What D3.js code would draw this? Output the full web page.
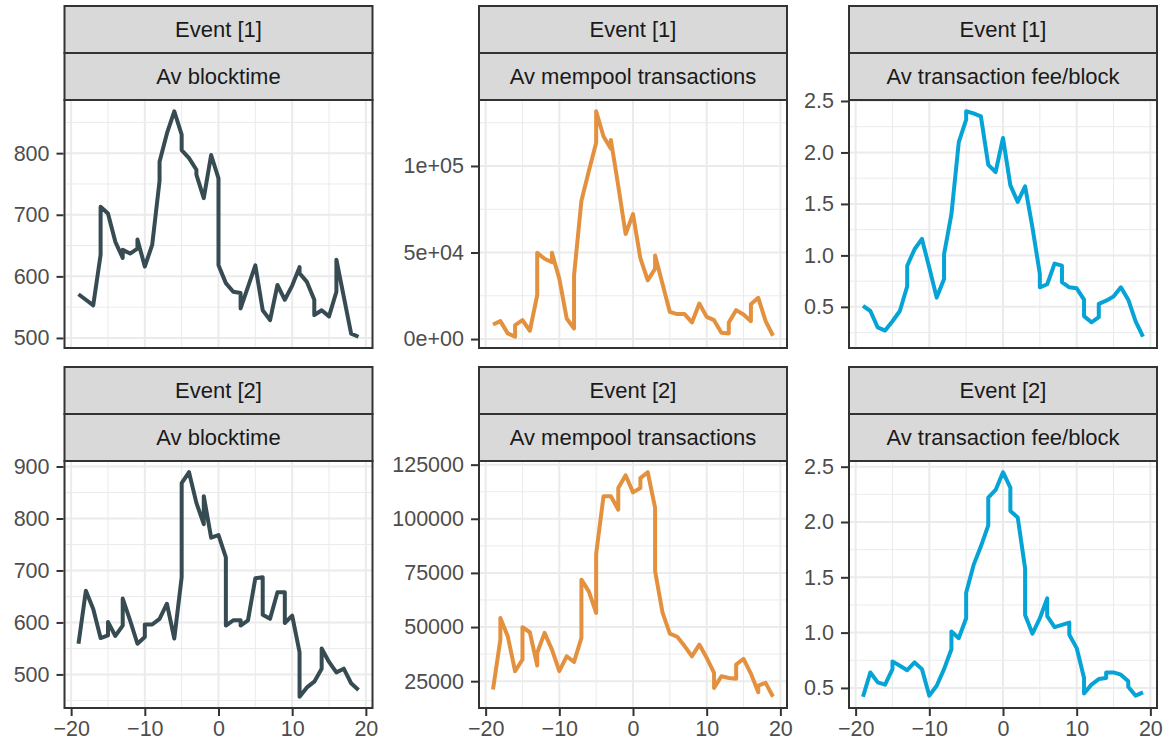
<!DOCTYPE html>
<html>
<head>
<meta charset="utf-8">
<script src="https://cdn.jsdelivr.net/npm/d3@7"></script>
<style>
  body { margin: 0; background: #fff; }
  svg text { font-family: "Liberation Sans", Arial, Helvetica, sans-serif; }
</style>
</head>
<body>
<div id="chart"></div>
<script>
// facet labels
const eventLabels = ["Event [1]", "Event [2]"];
const metricLabels = ["Av blocktime", "Av mempool transactions", "Av transaction fee/block"];

// x axis (days around event)
const xTicks = [-20, -10, 0, 10, 20];
const xMinorTicks = [-15, -5, 5, 15];

// series as [day, value]; repeated days are kept as they are in the data
const e1Blocktime = [[-19,571],[-18,562],[-17,553],[-16,635],[-16,713],[-15,702],[-14,656],[-13,630],[-13,643],[-12,637],[-11,645],[-11,660],[-10,616],[-9,651],[-8,755],[-8,786],[-7,832],[-6,868],[-5,830],[-5,805],[-4,792],[-3,773],[-3,765],[-2,727],[-1,797],[0,759],[0,618],[1,589],[2,575],[3,573],[3,548],[4,583],[5,618],[6,545],[7,529],[8,586],[9,562],[10,585],[11,615],[11,605],[12,591],[13,562],[13,537],[14,545],[15,535],[16,575],[16,627],[17,567],[18,507],[19,502]];
const e1Mempool = [[-19,8430],[-18,10350],[-17,3260],[-16,1340],[-16,8050],[-15,10900],[-14,4800],[-13,25300],[-13,49800],[-12,46400],[-11,44400],[-11,49800],[-10,34900],[-9,11900],[-8,6100],[-8,36800],[-7,79900],[-6,97000],[-5,113400],[-5,131600],[-4,117000],[-3,110000],[-3,115000],[-2,88500],[-1,60700],[0,72200],[1,46700],[2,33900],[3,40600],[3,48300],[4,32000],[5,15700],[6,14400],[7,14400],[8,9600],[9,20500],[10,12800],[11,10900],[12,3640],[13,3260],[13,9600],[14,16700],[15,14200],[16,10300],[16,20100],[17,23800],[18,10300],[19,1900]];
const e1Fee = [[-19,0.51],[-18,0.46],[-17,0.30],[-16,0.27],[-15,0.36],[-14,0.46],[-13,0.70],[-13,0.90],[-12,1.06],[-11,1.16],[-10,0.88],[-9,0.59],[-8,0.77],[-8,1.01],[-7,1.40],[-6,2.10],[-5,2.32],[-5,2.40],[-4,2.38],[-3,2.35],[-2,1.88],[-1,1.81],[0,2.14],[1,1.68],[2,1.52],[3,1.67],[4,1.27],[5,0.82],[5,0.69],[6,0.72],[7,0.92],[8,0.90],[8,0.74],[9,0.69],[10,0.68],[11,0.57],[11,0.41],[12,0.35],[13,0.40],[13,0.53],[14,0.56],[15,0.60],[16,0.69],[17,0.57],[18,0.36],[19,0.21]];
const e2Blocktime = [[-19,559],[-18,661],[-17,626],[-16,570],[-15,575],[-15,601],[-14,574],[-13,594],[-13,646],[-12,604],[-11,559],[-10,572],[-10,596],[-9,596],[-8,607],[-7,636],[-6,569],[-5,687],[-5,868],[-4,889],[-3,830],[-2,789],[-2,843],[-1,763],[0,768],[1,725],[1,594],[2,604],[3,604],[3,594],[4,604],[5,685],[6,687],[6,615],[7,607],[8,658],[9,658],[9,599],[10,613],[11,543],[11,457],[12,475],[13,486],[14,511],[14,550],[15,524],[16,504],[17,511],[18,483],[19,470]];
const e2Mempool = [[-19,21150],[-18,44200],[-18,54200],[-17,45800],[-16,29600],[-15,35000],[-15,49900],[-14,47600],[-13,32200],[-13,38100],[-12,47300],[-11,39600],[-10,29600],[-9,36500],[-8,33900],[-7,45000],[-7,71900],[-6,66500],[-5,56500],[-5,83900],[-4,110400],[-3,110400],[-2,104200],[-2,114200],[-1,120100],[0,112200],[1,114200],[1,118800],[2,121500],[3,105000],[3,75800],[4,56800],[5,47000],[6,45500],[7,41200],[8,36500],[9,41900],[10,35800],[11,28800],[11,21900],[12,27300],[13,26500],[14,26100],[14,32700],[15,35300],[16,28500],[17,19900],[17,23000],[18,24200],[19,17800]];
const e2Fee = [[-19,0.42],[-18,0.64],[-17,0.55],[-16,0.53],[-15,0.67],[-15,0.74],[-14,0.70],[-13,0.66],[-12,0.73],[-11,0.67],[-10,0.43],[-9,0.52],[-8,0.67],[-7,0.85],[-7,1.01],[-6,0.95],[-5,1.13],[-5,1.36],[-4,1.61],[-3,1.78],[-2,1.97],[-2,2.22],[-1,2.29],[0,2.45],[1,2.31],[1,2.10],[2,2.04],[3,1.58],[3,1.16],[4,0.99],[5,1.13],[6,1.31],[6,1.15],[7,1.05],[8,1.07],[9,1.09],[9,0.98],[10,0.86],[11,0.59],[11,0.45],[12,0.53],[13,0.58],[14,0.59],[14,0.64],[15,0.64],[16,0.62],[17,0.56],[17,0.51],[18,0.43],[19,0.46]];

// y ticks per panel
const e1BlocktimeTicks = [500, 600, 700, 800];
const e1BlocktimeLabels = ["500", "600", "700", "800"];
const e1MempoolTicks = [0, 50000, 100000];
const e1MempoolLabels = ["0e+00", "5e+04", "1e+05"];
const e1FeeTicks = [0.5, 1.0, 1.5, 2.0, 2.5];
const e1FeeLabels = ["0.5", "1.0", "1.5", "2.0", "2.5"];
const e2BlocktimeTicks = [500, 600, 700, 800, 900];
const e2BlocktimeLabels = ["500", "600", "700", "800", "900"];
const e2MempoolTicks = [25000, 50000, 75000, 100000, 125000];
const e2MempoolLabels = ["25000", "50000", "75000", "100000", "125000"];
const e2FeeTicks = [0.5, 1.0, 1.5, 2.0, 2.5];
const e2FeeLabels = ["0.5", "1.0", "1.5", "2.0", "2.5"];

const metricColors = ["#364b52", "#e3913f", "#05a3d6"];

const W = 1173, H = 747;

// layout of the facet grid
const cols = [
  {x0: 64.5, x1: 372.5},
  {x0: 479, x1: 787},
  {x0: 849, x1: 1157}
];
const rows = [
  {stripTop: 6, top: 100, bottom: 348},
  {stripTop: 367, top: 461, bottom: 708}
];
const stripH = 47;

const panels = [
  {row: 0, col: 0, data: e1Blocktime, ticks: e1BlocktimeTicks, labels: e1BlocktimeLabels},
  {row: 0, col: 1, data: e1Mempool, ticks: e1MempoolTicks, labels: e1MempoolLabels},
  {row: 0, col: 2, data: e1Fee, ticks: e1FeeTicks, labels: e1FeeLabels},
  {row: 1, col: 0, data: e2Blocktime, ticks: e2BlocktimeTicks, labels: e2BlocktimeLabels},
  {row: 1, col: 1, data: e2Mempool, ticks: e2MempoolTicks, labels: e2MempoolLabels},
  {row: 1, col: 2, data: e2Fee, ticks: e2FeeTicks, labels: e2FeeLabels}
];

const svg = d3.select("#chart")
  .append("svg")
  .attr("width", W)
  .attr("height", H);

svg.append("rect").attr("width", W).attr("height", H).attr("fill", "#fff");

// ggplot style 5% expansion
function expand(ext) {
  const pad = (ext[1] - ext[0]) * 0.05;
  return [ext[0] - pad, ext[1] + pad];
}

const allX = panels.flatMap(p => p.data.map(d => d[0]));
const xDomain = expand(d3.extent(allX));

function drawPanel(p) {
  const col = cols[p.col];
  const row = rows[p.row];
  const g = svg.append("g").attr("class", "panel");

  const x = d3.scaleLinear().domain(xDomain).range([col.x0, col.x1]);
  const y = d3.scaleLinear().domain(expand(d3.extent(p.data, d => d[1]))).range([row.bottom, row.top]);

  g.append("rect")
    .attr("x", col.x0).attr("y", row.top)
    .attr("width", col.x1 - col.x0).attr("height", row.bottom - row.top)
    .attr("fill", "#fff");

  // minor y breaks sit half way between the major ones
  const step = p.ticks[1] - p.ticks[0];
  const yDom = y.domain();
  const yMinor = [p.ticks[0] - step / 2].concat(p.ticks.map(t => t + step / 2))
    .filter(v => v > yDom[0] && v < yDom[1]);

  const grid = g.append("g").attr("class", "grid");
  grid.selectAll(".minor-x").data(xMinorTicks).join("line")
    .attr("x1", d => x(d)).attr("x2", d => x(d))
    .attr("y1", row.top).attr("y2", row.bottom)
    .attr("stroke", "#ebebeb").attr("stroke-width", 1);
  grid.selectAll(".minor-y").data(yMinor).join("line")
    .attr("x1", col.x0).attr("x2", col.x1)
    .attr("y1", d => y(d)).attr("y2", d => y(d))
    .attr("stroke", "#ebebeb").attr("stroke-width", 1);
  grid.selectAll(".major-x").data(xTicks).join("line")
    .attr("x1", d => x(d)).attr("x2", d => x(d))
    .attr("y1", row.top).attr("y2", row.bottom)
    .attr("stroke", "#ebebeb").attr("stroke-width", 2);
  grid.selectAll(".major-y").data(p.ticks).join("line")
    .attr("x1", col.x0).attr("x2", col.x1)
    .attr("y1", d => y(d)).attr("y2", d => y(d))
    .attr("stroke", "#ebebeb").attr("stroke-width", 2);

  const line = d3.line()
    .x(d => x(d[0]))
    .y(d => y(d[1]));

  g.append("path")
    .datum(p.data)
    .attr("fill", "none")
    .attr("stroke", metricColors[p.col])
    .attr("stroke-width", 4)
    .attr("stroke-linejoin", "round")
    .attr("d", line);

  // panel border
  g.append("rect")
    .attr("x", col.x0).attr("y", row.top)
    .attr("width", col.x1 - col.x0).attr("height", row.bottom - row.top)
    .attr("fill", "none")
    .attr("stroke", "#333333").attr("stroke-width", 2);

  // y axis
  const yAxis = g.append("g")
    .attr("transform", `translate(${col.x0 - 1},0)`)
    .call(d3.axisLeft(y)
      .tickValues(p.ticks)
      .tickFormat((d, i) => p.labels[i])
      .tickSize(7)
      .tickPadding(7));
  styleAxis(yAxis);

  // x axis only on bottom row
  if (p.row === rows.length - 1) {
    const xAxis = g.append("g")
      .attr("transform", `translate(0,${row.bottom + 1})`)
      .call(d3.axisBottom(x)
        .tickValues(xTicks)
        .tickSize(7)
        .tickPadding(5));
    styleAxis(xAxis);
  }

  // two strips: event on top, metric below
  const stripTexts = [eventLabels[p.row], metricLabels[p.col]];
  stripTexts.forEach((txt, i) => {
    const sy = row.stripTop + i * stripH;
    g.append("rect")
      .attr("x", col.x0).attr("y", sy)
      .attr("width", col.x1 - col.x0).attr("height", stripH)
      .attr("fill", "#d9d9d9")
      .attr("stroke", "#333333").attr("stroke-width", 2);
    g.append("text")
      .attr("x", (col.x0 + col.x1) / 2)
      .attr("y", sy + stripH / 2)
      .attr("dy", "0.36em")
      .attr("text-anchor", "middle")
      .attr("fill", "#1a1a1a")
      .style("font-size", "22px")
      .text(txt);
  });
}

function styleAxis(ax) {
  ax.select(".domain").remove();
  ax.selectAll(".tick line").attr("stroke", "#333333").attr("stroke-width", 2);
  ax.selectAll(".tick text")
    .attr("fill", "#4d4d4d")
    .style("font-size", "21.5px")
    .style("font-family", "'Liberation Sans', Arial, sans-serif");
}

panels.forEach(drawPanel);
</script>
</body>
</html>
